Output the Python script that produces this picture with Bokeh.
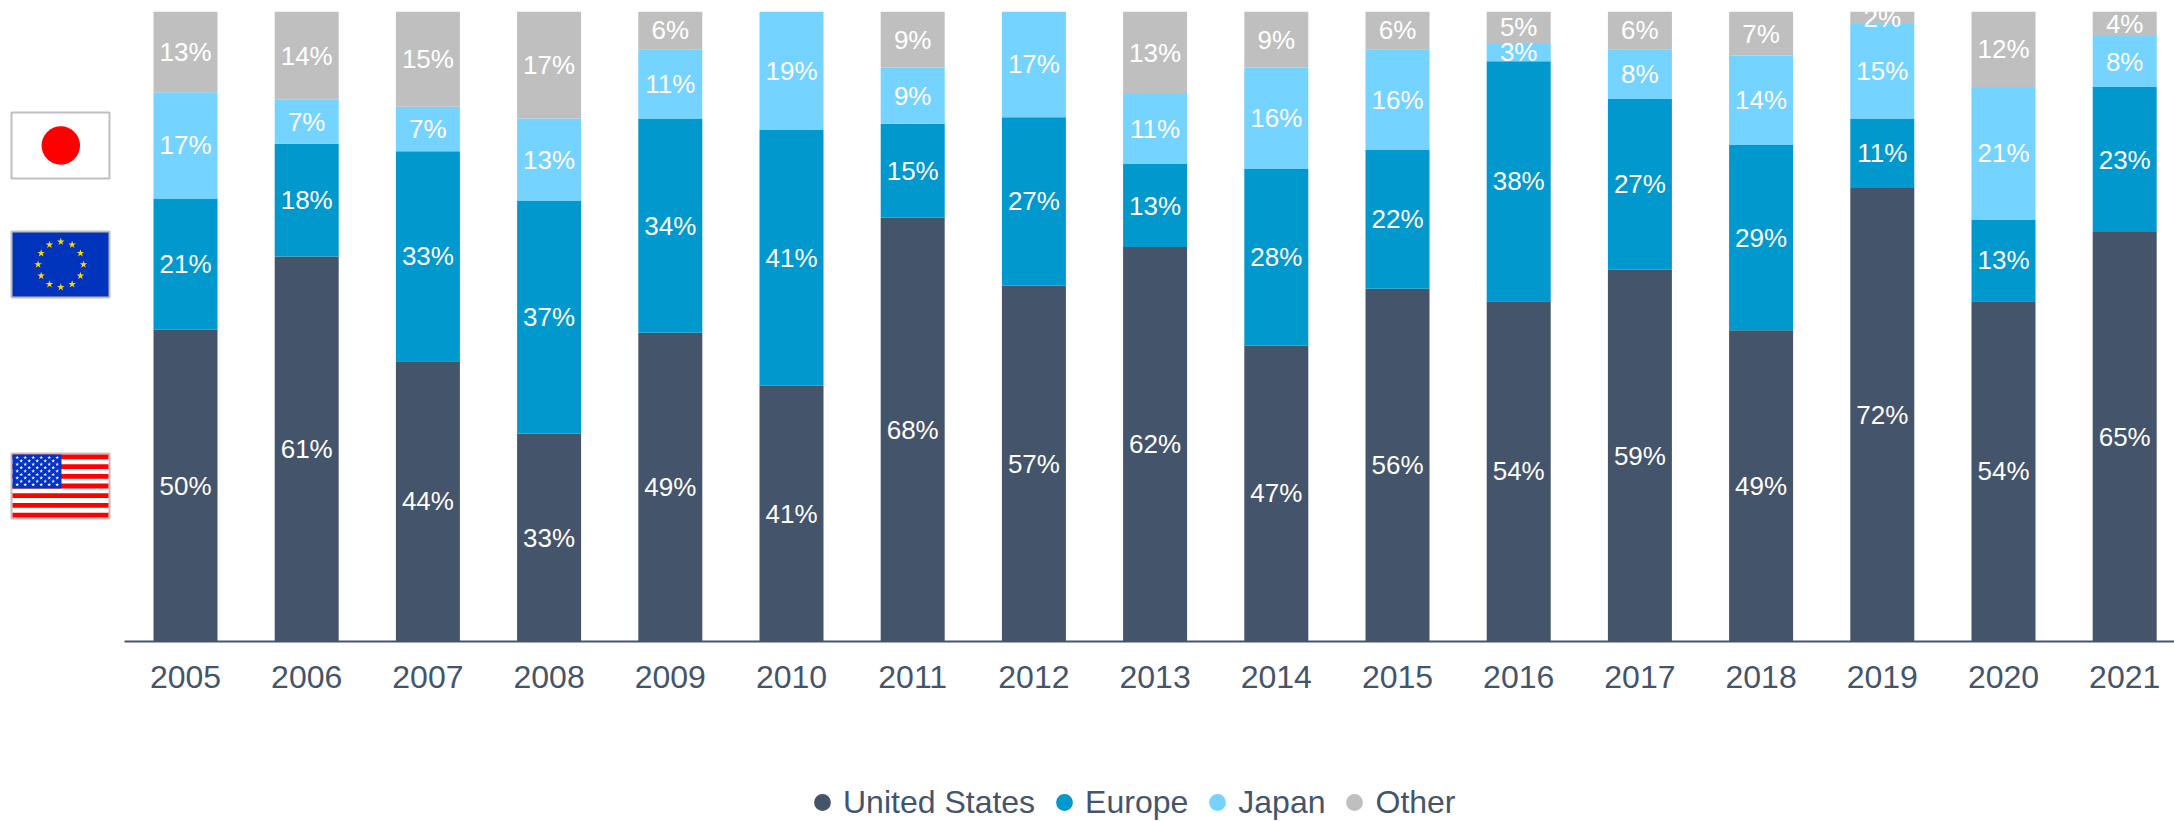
import math
from bokeh.plotting import figure, ColumnDataSource
from bokeh.models import FixedTicker, Legend, LegendItem, Range1d
from bokeh.core.properties import value
from bokeh.embed import file_html
from bokeh.resources import INLINE

years = list(range(2005, 2022))
united_states = [49.5, 61.1, 44.5, 33.0, 49.0, 40.6, 67.3, 56.5, 62.6, 47.0, 56.0, 54.0, 59.0, 49.4, 72.0, 54.0, 65.0]
europe = [20.8, 17.9, 33.3, 37.0, 34.0, 40.6, 14.9, 26.7, 13.2, 28.0, 22.0, 38.1, 27.1, 29.4, 11.0, 13.0, 23.0]
japan = [16.9, 7.0, 7.1, 13.0, 11.0, 18.8, 8.9, 16.8, 11.1, 16.1, 16.0, 2.9, 7.9, 14.2, 15.0, 21.0, 8.1]
other = [12.8, 14.0, 15.1, 17.0, 6.0, 0, 8.9, 0, 13.1, 8.9, 6.0, 5.0, 6.0, 7.0, 2.0, 12.0, 3.9]

us_labels = ["50%", "61%", "44%", "33%", "49%", "41%", "68%", "57%", "62%", "47%", "56%", "54%", "59%", "49%", "72%", "54%", "65%"]
eu_labels = ["21%", "18%", "33%", "37%", "34%", "41%", "15%", "27%", "13%", "28%", "22%", "38%", "27%", "29%", "11%", "13%", "23%"]
jp_labels = ["17%", "7%", "7%", "13%", "11%", "19%", "9%", "17%", "11%", "16%", "16%", "3%", "8%", "14%", "15%", "21%", "8%"]
ot_labels = ["13%", "14%", "15%", "17%", "6%", "", "9%", "", "13%", "9%", "6%", "5%", "6%", "7%", "2%", "12%", "4%"]

series_names = ["United States", "Europe", "Japan", "Other"]
series_values = [united_states, europe, japan, other]
series_labels = [us_labels, eu_labels, jp_labels, ot_labels]
colors = ["#44546A", "#0098CD", "#75D3FF", "#BFBFBF"]
INK = "#44546A"
FONT = "Liberation Sans"

# layout, in page pixels
W, H = 2174, 821
FRAME_TOP, BASE = 11, 641
FIRST, STEP, BAR = 185.0, 121.2, 64.0
PX_PER_PCT = 6.3


def X(px):
    return 2005 + (px - FIRST) / STEP


def Y(py):
    return (BASE - py) / PX_PER_PCT


p = figure(width=W, height=H, output_backend="svg", toolbar_location=None,
           x_range=Range1d(X(0), X(W)),
           y_range=Range1d(Y(H), Y(FRAME_TOP)),
           min_border_left=0, min_border_right=0,
           min_border_top=FRAME_TOP, min_border_bottom=0,
           outline_line_color=None, background_fill_color="white", border_fill_color="white")
p.grid.visible = False
p.yaxis.visible = False
ax = p.xaxis[0]
ax.ticker = FixedTicker(ticks=years)
ax.fixed_location = 0
ax.bounds = (X(124), X(W))
ax.axis_line_color = INK
ax.axis_line_width = 2
ax.major_tick_line_color = None
ax.minor_tick_line_color = None
ax.major_label_text_font = FONT
ax.major_label_text_font_size = "32px"
ax.major_label_text_color = INK
ax.major_label_standoff = 18
ax.formatter.use_scientific = False
ax.formatter.precision = 0

bottom = [0.0] * len(years)
for vals, col in zip(series_values, colors):
    top = [b + v for b, v in zip(bottom, vals)]
    src = ColumnDataSource(dict(x=years, bottom=bottom, top=top))
    p.vbar(x="x", bottom="bottom", top="top", width=BAR / STEP, source=src,
           fill_color=col, line_color=None)
    bottom = top

# data labels above all bars
bottom = [0.0] * len(years)
for vals, labels in zip(series_values, series_labels):
    top = [b + v for b, v in zip(bottom, vals)]
    mid = [(b + t) / 2 for b, t in zip(bottom, top)]
    src = ColumnDataSource(dict(x=years, mid=mid, label=labels))
    p.text(x="x", y="mid", text="label", source=src, text_color="white",
           text_font=value(FONT), text_font_size="26px",
           text_align="center", text_baseline="middle")
    bottom = top

# flags
FL, FR = 11, 109
BORDER = "#BFBFBF"
# Japan
p.quad(left=[X(FL)], right=[X(FR)], top=[Y(112)], bottom=[Y(178)],
       fill_color="white", line_color=BORDER, line_width=2)
p.scatter(x=[X(60.3)], y=[Y(145)], size=38.5, marker="circle", fill_color="#FF0000", line_color=None)
# EU
p.quad(left=[X(FL)], right=[X(FR)], top=[Y(231)], bottom=[Y(297)],
       fill_color="#0033BB", line_color=BORDER, line_width=2)
star_angles = [i * math.pi / 6 for i in range(12)]
p.scatter(x=[X(60.3 + 22.7 * math.cos(a)) for a in star_angles],
          y=[Y(264 + 22.7 * math.sin(a)) for a in star_angles],
          size=8, marker="star", fill_color="#FFD700", line_color=None)
# USA
p.quad(left=[X(FL)], right=[X(FR)], top=[Y(453)], bottom=[Y(518)],
       fill_color="white", line_color=BORDER, line_width=2)
stripe_h = 63.0 / 13
p.quad(left=[X(12)] * 7, right=[X(108)] * 7,
       top=[Y(454 + 2 * i * stripe_h) for i in range(7)],
       bottom=[Y(454 + (2 * i + 1) * stripe_h) for i in range(7)],
       fill_color="#FF0000", line_color=None)
p.quad(left=[X(12)], right=[X(61)], top=[Y(454)], bottom=[Y(488)],
       fill_color="#0033C8", line_color=None)
sx, sy = [], []
for r in range(9):
    cols = 6 if r % 2 == 0 else 5
    for c in range(cols):
        sx.append(X(16.7 + 8 * c + (4 if r % 2 else 0)))
        sy.append(Y(457 + 3.4 * r))
p.scatter(x=sx, y=sy, size=4, marker="star", fill_color="white", line_color=None)

# legend
items = []
for name, col in zip(series_names, colors):
    r = p.scatter(x=[float("nan")], y=[float("nan")], size=17, marker="circle",
                  fill_color=col, line_color=None)
    items.append(LegendItem(label=value(name), renderers=[r]))
legend = Legend(items=items, orientation="horizontal", location=(801, -2),
                background_fill_alpha=0, border_line_color=None,
                padding=0, margin=0, glyph_width=42, glyph_height=42,
                label_standoff=0, spacing=8,
                label_text_font=FONT, label_text_font_size="32px", label_text_color=INK)
p.add_layout(legend, "center")

open("out.html", "w").write(file_html(p, INLINE))
